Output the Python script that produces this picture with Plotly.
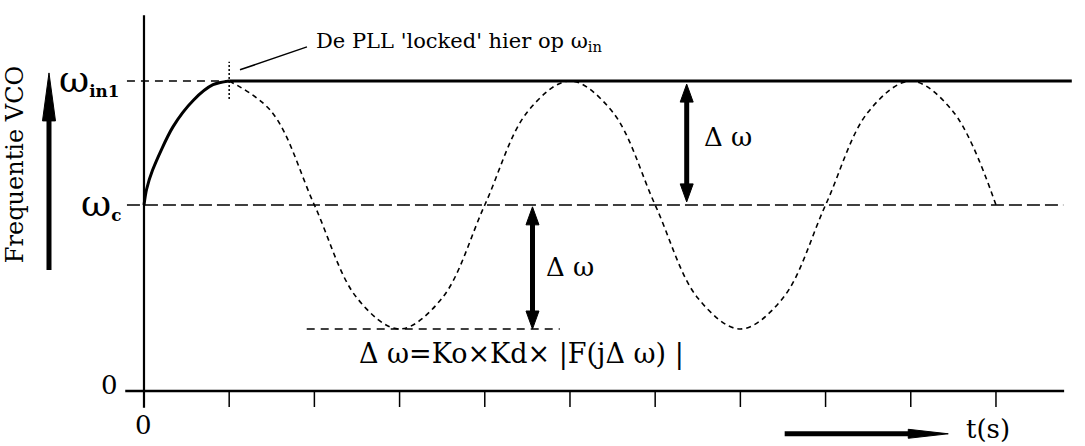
import plotly.graph_objects as go

# ---- data (time units, frequency units) ----
t_rise = [0.0, 0.03, 0.10, 0.34, 0.58, 0.81, 1.0]
f_rise = [3.0, 3.25, 3.56, 4.26, 4.69, 4.94, 5.0]

t_free = [1, 1.5, 2, 2.5, 3, 3.5, 4, 4.5, 5, 5.5, 6, 6.5, 7, 7.5, 8, 8.5, 9, 9.5, 10]
f_free = [5, 4.5, 3, 1.5, 1, 1.5, 3, 4.5, 5, 4.5, 3, 1.5, 1, 1.5, 3, 4.5, 5, 4.5, 3]

w_in1 = 5.0
w_c = 3.0
w_min = 1.0
t_lock = 1.0
x_ticks = [1, 2, 3, 4, 5, 6, 7, 8, 9, 10]

W, H = 1085, 446
XR = [-1.690, 11.045]
YR = [-0.887, 6.306]
sx = W / (XR[1] - XR[0])
sy = H / (YR[1] - YR[0])

FONT = "DejaVu Serif"
BLACK = "black"

fig = go.Figure()

# free-running (dashed) VCO response
fig.add_trace(go.Scatter(x=t_free, y=f_free, mode="lines",
                         line=dict(color=BLACK, width=1.6, dash="5px,4px", shape="spline", smoothing=1.0),
                         hoverinfo="skip", showlegend=False))
# rising part (solid)
fig.add_trace(go.Scatter(x=t_rise, y=f_rise, mode="lines",
                         line=dict(color=BLACK, width=3, shape="spline", smoothing=0.8),
                         hoverinfo="skip", showlegend=False))
# locked line
fig.add_trace(go.Scatter(x=[t_lock, 10.89], y=[w_in1, w_in1], mode="lines",
                         line=dict(color=BLACK, width=3),
                         hoverinfo="skip", showlegend=False))

shapes = []
def line(x0, y0, x1, y1, width=1.5, dash="solid"):
    shapes.append(dict(type="line", x0=x0, y0=y0, x1=x1, y1=y1, xref="x", yref="y",
                       line=dict(color=BLACK, width=width, dash=dash)))

# axes
line(-0.22, 0, 10.8, 0, width=2.5)
line(0, -0.27, 0, 6.06, width=2.2)
for t in x_ticks:
    shapes.append(dict(type="line", xref="x", yref="y", x0=t, x1=t, ysizemode="pixel",
                       yanchor=0, y0=-1, y1=-16, line=dict(color=BLACK, width=1.5)))

# reference levels
line(-0.2, w_in1, t_lock, w_in1, width=1.5, dash="8px,6px")
line(-0.2, w_c, 10.79, w_c, width=1.5, dash="13px,5px")
line(1.91, w_min, 4.88, w_min, width=1.5, dash="8px,6px")
# lock marker + leader line
line(t_lock, 4.71, t_lock, 5.31, width=1.5, dash="2px,2px")
line(1.127, 5.18, 1.913, 5.55, width=1.5)

def arrow(x0, y0, x1, y1, lw=5, hw=13, hl=18, both=False):
    dxp = (x1 - x0) * sx
    dyp = (y1 - y0) * sy
    n = (dxp ** 2 + dyp ** 2) ** 0.5
    ux, uy = dxp / n, dyp / n
    def head(tx, ty, ux, uy):
        px, py = -uy, ux
        bx, by = -ux * hl, -uy * hl
        pts = [(0, 0), (bx + px * hw / 2, by + py * hw / 2), (bx - px * hw / 2, by - py * hw / 2)]
        path = "M {} {} L {} {} L {} {} Z".format(*[v for p in pts for v in p])
        shapes.append(dict(type="path", xref="x", yref="y", xsizemode="pixel", ysizemode="pixel",
                           xanchor=tx, yanchor=ty, path=path, fillcolor=BLACK,
                           line=dict(color=BLACK, width=1)))
    ex = x1 - ux * (hl - 2) / sx
    ey = y1 - uy * (hl - 2) / sy
    sxx, syy = x0, y0
    head(x1, y1, ux, uy)
    if both:
        sxx = x0 + ux * (hl - 2) / sx
        syy = y0 + uy * (hl - 2) / sy
        head(x0, y0, -ux, -uy)
    line(sxx, syy, ex, ey, width=lw)

# delta-omega arrows
arrow(6.37, w_c + 0.05, 6.37, w_in1 - 0.05, both=True)
arrow(4.56, w_min, 4.56, w_c - 0.03, both=True)
# axis-direction arrows
arrow(-1.115, 1.95, -1.115, 5.13, lw=5, hw=13, hl=48)
arrow(7.52, -0.69, 9.44, -0.69, lw=5, hw=9, hl=40)

fig.update_layout(shapes=shapes)

def text(x, y, s, size, xanchor="center", yanchor="middle", angle=0):
    fig.add_annotation(x=x, y=y, xref="x", yref="y", text=s, showarrow=False,
                       xanchor=xanchor, yanchor=yanchor, textangle=angle,
                       font=dict(family=FONT, size=size, color=BLACK))

OMEGA = '<span style="font-size:37px">ω</span>'
text(-0.27, w_in1 + 0.03, OMEGA + "<sub><b>in1</b></sub>", 24, xanchor="right")
text(-0.25, w_c + 0.03, OMEGA + "<sub><b>c</b></sub>", 24, xanchor="right")
text(-0.28, 0.1, "0", 26, xanchor="right")
text(0, -0.55, "0", 26)
text(9.63, -0.62, "t(s)", 26, xanchor="left")
text(-1.52, 3.65, "Frequentie VCO", 24, angle=-90)
text(2.0, 5.63, "De PLL 'locked' hier op ω<sub>in</sub>", 21, xanchor="left")
text(6.55, 4.1, "Δ ω", 26, xanchor="left")
text(4.7, 2.0, "Δ ω", 26, xanchor="left")
text(2.5, 0.6, "Δ ω=Ko×Kd× |F(jΔ ω) |", 27, xanchor="left")

fig.update_layout(
    width=W, height=H, autosize=False,
    margin=dict(l=0, r=0, t=0, b=0),
    paper_bgcolor="white", plot_bgcolor="white",
    xaxis=dict(range=XR, visible=False, fixedrange=True),
    yaxis=dict(range=YR, visible=False, fixedrange=True),
    showlegend=False,
)

fig.write_html("out.html", config={"displayModeBar": False},
               post_script="document.body.style.margin='0';document.body.style.overflow='hidden';")
